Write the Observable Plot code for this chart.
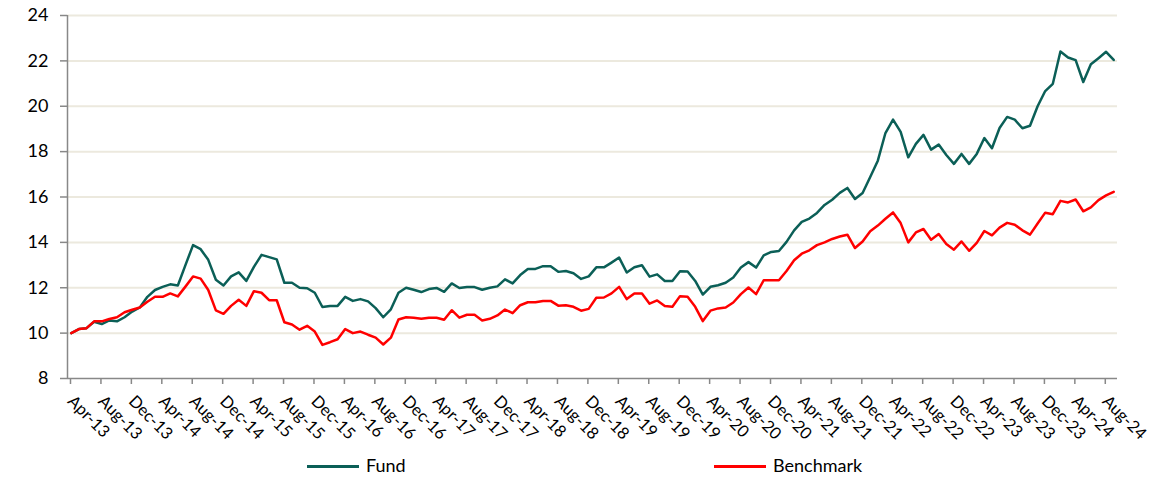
<!DOCTYPE html>
<html><head><meta charset="utf-8">
<script src="https://cdn.jsdelivr.net/npm/d3@7"></script>
<script src="https://cdn.jsdelivr.net/npm/@observablehq/plot@0.6"></script>
<style>
body{margin:0;background:#fff;}
#wrap{position:relative;width:1173px;height:481px;font-family:Lato,"Open Sans",sans-serif;}
.sw{position:absolute;height:3px;top:465px;}
.lt{position:absolute;top:455px;font-size:18px;line-height:20px;color:#000;}
</style></head><body><div id="wrap"></div>
<script>
const tickLabels = ["Apr-13","Aug-13","Dec-13","Apr-14","Aug-14","Dec-14","Apr-15","Aug-15","Dec-15","Apr-16","Aug-16","Dec-16","Apr-17","Aug-17","Dec-17","Apr-18","Aug-18","Dec-18","Apr-19","Aug-19","Dec-19","Apr-20","Aug-20","Dec-20","Apr-21","Aug-21","Dec-21","Apr-22","Aug-22","Dec-22","Apr-23","Aug-23","Dec-23","Apr-24","Aug-24"];
const seriesNames = ["Fund","Benchmark"];
const fund = [10.0,10.18,10.22,10.5,10.4,10.56,10.52,10.7,10.95,11.13,11.6,11.9,12.04,12.15,12.1,13.0,13.88,13.7,13.23,12.35,12.1,12.5,12.68,12.3,12.92,13.45,13.35,13.25,12.22,12.22,12.0,11.98,11.78,11.15,11.2,11.2,11.6,11.42,11.5,11.4,11.1,10.7,11.05,11.78,12.0,11.91,11.81,11.94,11.99,11.82,12.19,11.99,12.03,12.03,11.91,12.0,12.06,12.37,12.19,12.56,12.83,12.83,12.95,12.95,12.7,12.74,12.64,12.39,12.5,12.9,12.9,13.11,13.33,12.67,12.9,12.99,12.49,12.59,12.3,12.3,12.73,12.72,12.3,11.7,12.04,12.11,12.22,12.45,12.89,13.13,12.89,13.43,13.58,13.62,14.02,14.53,14.9,15.05,15.3,15.65,15.88,16.18,16.4,15.91,16.18,16.88,17.6,18.82,19.41,18.87,17.75,18.34,18.74,18.09,18.31,17.85,17.46,17.9,17.46,17.9,18.6,18.15,19.04,19.53,19.41,19.03,19.14,20.0,20.67,20.99,22.41,22.15,22.03,21.07,21.85,22.12,22.4,22.04];
const benchmark = [10.0,10.18,10.22,10.52,10.52,10.62,10.7,10.92,11.03,11.13,11.38,11.6,11.6,11.75,11.62,12.05,12.5,12.4,11.9,11.0,10.85,11.2,11.47,11.2,11.85,11.78,11.45,11.45,10.48,10.38,10.15,10.32,10.07,9.48,9.6,9.73,10.18,10.0,10.07,9.93,9.8,9.5,9.8,10.6,10.7,10.68,10.63,10.68,10.68,10.59,11.01,10.68,10.81,10.81,10.56,10.63,10.78,11.04,10.88,11.23,11.36,11.36,11.42,11.42,11.21,11.23,11.16,10.99,11.07,11.56,11.57,11.75,12.04,11.5,11.75,11.75,11.3,11.44,11.2,11.16,11.63,11.6,11.16,10.53,10.99,11.09,11.13,11.35,11.72,12.01,11.72,12.33,12.33,12.33,12.74,13.21,13.5,13.65,13.88,14.0,14.15,14.26,14.34,13.75,14.04,14.49,14.74,15.04,15.32,14.85,14.0,14.44,14.59,14.12,14.37,13.93,13.68,14.04,13.63,13.98,14.5,14.31,14.65,14.86,14.78,14.53,14.34,14.83,15.31,15.24,15.83,15.76,15.89,15.37,15.54,15.86,16.07,16.23];
const colors = ["#0b5f57","#ff0000"];
const yTicks = [8,10,12,14,16,18,20,22,24];

const tickPos = tickLabels.map((_, k) => k * 4 - 0.5);
const fundData = fund.map((v, i) => ({i, v}));
const benchData = benchmark.map((v, i) => ({i, v}));
const n = fund.length;

const chart = Plot.plot({
  width: 1173, height: 450,
  marginLeft: 67, marginRight: 56, marginTop: 15, marginBottom: 72,
  x: {type: "linear", domain: [-0.5, n - 0.5]},
  y: {domain: [8, 24]},
  style: {fontFamily: "Lato, 'Open Sans', sans-serif", fontSize: "16px", color: "#000", background: "#fff", overflow: "visible"},
  marks: [
    Plot.ruleY(yTicks.slice(1), {stroke: "#ece9de", strokeWidth: 2}),
    Plot.ruleY([8], {stroke: "#888", strokeWidth: 1.5}),
    Plot.ruleX([-0.5], {stroke: "#888", strokeWidth: 1.5}),
    Plot.axisY({ticks: yTicks, tickSize: 7, tickPadding: 12, stroke: "#888", strokeWidth: 1.5, tickFormat: d => d, fontSize: 18, label: null}),
    Plot.axisX({ticks: tickPos, tickSize: 6, tickPadding: 14, stroke: "#888", strokeWidth: 1.5, tickRotate: 45, dx: 3,
      tickFormat: d => tickLabels[Math.round((d + 0.5) / 4)], fontSize: 16.5, label: null}),
    Plot.line(fundData, {x: "i", y: "v", stroke: colors[0], strokeWidth: 2.5}),
    Plot.line(benchData, {x: "i", y: "v", stroke: colors[1], strokeWidth: 2.5})
  ]
});
const wrap = document.getElementById("wrap");
wrap.appendChild(chart);
const legendPos = [[307, 366], [714, 773]];
seriesNames.forEach((name, k) => {
  const sw = document.createElement("div");
  sw.className = "sw";
  sw.style.left = legendPos[k][0] + "px";
  sw.style.width = (legendPos[k][1] - legendPos[k][0] - 7) + "px";
  sw.style.background = colors[k];
  wrap.appendChild(sw);
  const t = document.createElement("div");
  t.className = "lt";
  t.style.left = legendPos[k][1] + "px";
  t.textContent = name;
  wrap.appendChild(t);
});
</script></body></html>
